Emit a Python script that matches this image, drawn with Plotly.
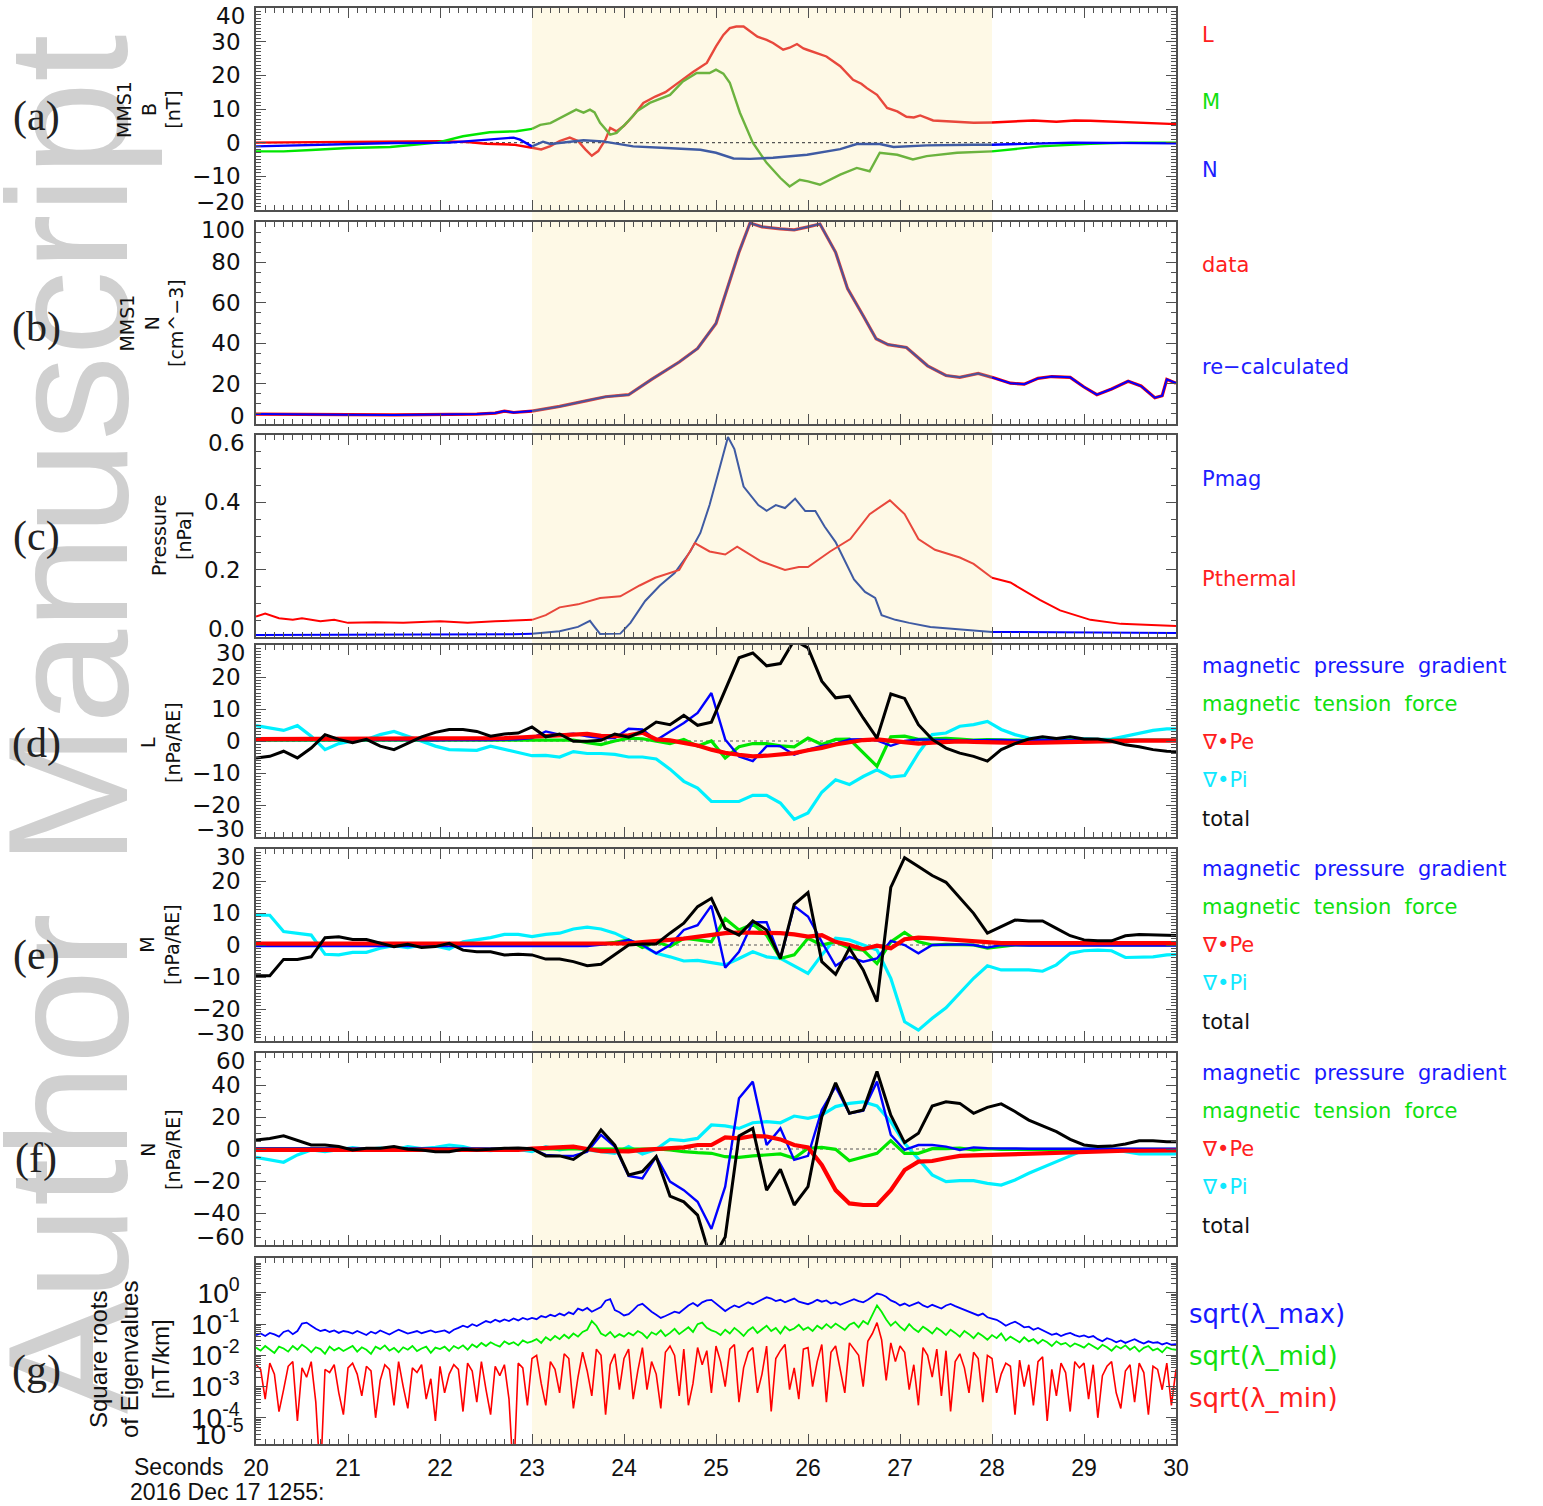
import plotly.graph_objects as go

# ======================= DATA =======================
# (a) MMS1 B in LMN [nT]
t_BL = [20.0, 20.5, 21.0, 21.5, 22.0, 22.3, 22.5, 22.8, 23.0, 23.1, 23.2, 23.3, 23.41, 23.5, 23.58, 23.65, 23.72, 23.8, 23.85, 23.92,
        24.0, 24.1, 24.21, 24.34, 24.45, 24.53, 24.61, 24.75, 24.9, 25.0, 25.08, 25.15, 25.22, 25.3, 25.37, 25.45, 25.55, 25.62, 25.73, 25.8,
        25.88, 25.95, 25.99, 26.1, 26.2, 26.35, 26.49, 26.58, 26.64, 26.75, 26.86, 26.97, 27.07, 27.15, 27.22, 27.36, 27.62, 27.8, 28.0, 28.2,
        28.45, 28.7, 28.9, 29.07, 29.3, 29.53, 29.75, 30.0]
B_L = [0.0, 0.1, 0.2, 0.5, 0.4, 0.2, -0.3, -0.6, -1.5, -2.0, -1.0, 0.5, 1.5, 0.5, -2.0, -3.9, -2.5, 1.0, 4.4, 3.4,
       5.0, 8.0, 11.8, 13.7, 15.0, 16.7, 18.2, 21.0, 23.7, 28.6, 32.0, 34.0, 34.5, 34.5, 33.0, 31.5, 30.5, 29.6, 27.6, 28.2,
       29.3, 28.0, 27.6, 26.5, 25.6, 22.7, 18.7, 17.5, 16.2, 14.2, 10.3, 9.3, 7.7, 7.5, 8.1, 6.6, 6.3, 5.9, 6.0, 6.3,
       6.6, 6.2, 6.6, 6.5, 6.2, 5.9, 5.7, 5.5]
t_BM = [20.0, 20.3, 20.6, 21.0, 21.46, 21.75, 21.97, 22.25, 22.54, 22.83, 23.0, 23.09, 23.2, 23.34, 23.48, 23.56, 23.63, 23.68, 23.74, 23.85,
        23.92, 24.05, 24.14, 24.28, 24.4, 24.5, 24.64, 24.79, 24.93, 25.0, 25.08, 25.15, 25.26, 25.37, 25.4, 25.55, 25.7, 25.8, 25.91, 26.0,
        26.13, 26.35, 26.53, 26.67, 26.72, 26.78, 26.97, 27.14, 27.29, 27.62, 28.0, 28.52, 29.07, 29.5, 30.0]
B_M = [-2.6, -2.6, -2.2, -1.6, -1.3, -0.6, 0.0, 1.9, 3.1, 3.4, 4.1, 5.3, 5.8, 7.8, 9.8, 8.9, 9.8, 9.0, 5.9, 2.4,
       2.9, 6.5, 9.3, 11.8, 13.0, 14.2, 18.2, 20.7, 20.7, 21.7, 20.5, 17.8, 8.9, 1.9, 0.0, -6.0, -10.5, -13.0, -11.0, -11.5,
       -12.5, -9.5, -7.5, -8.5, -6.0, -3.0, -3.6, -5.0, -4.0, -3.0, -2.6, -1.1, -0.3, 0.0, 0.0]
t_BN = [20.0, 20.5, 21.0, 21.5, 22.1, 22.47, 22.8, 22.87, 23.0, 23.12, 23.2, 23.56, 23.77, 24.1, 24.46, 24.83, 25.0, 25.19, 25.37, 25.62,
        25.99, 26.35, 26.53, 26.78, 26.93, 27.29, 27.8, 28.0, 28.88, 30.0]
B_N = [-1.1, -0.7, -0.3, -0.1, 0.0, 0.9, 1.5, 0.9, -1.1, 0.3, -0.4, 0.7, 0.4, -1.1, -1.6, -2.1, -3.0, -4.7, -4.8, -4.5,
       -3.6, -1.9, -0.4, -0.4, -1.3, -0.8, -0.6, -0.6, 0.0, -0.2]

# (b) MMS1 N [cm^-3]
t_N = [20.0, 20.3, 20.6, 21.0, 21.5, 22.0, 22.4, 22.6, 22.7, 22.8, 23.0, 23.3, 23.6, 23.8, 24.05, 24.3, 24.6, 24.8, 25.0, 25.15,
       25.25, 25.37, 25.5, 25.7, 25.85, 26.0, 26.13, 26.3, 26.43, 26.6, 26.74, 26.87, 27.07, 27.3, 27.5, 27.65, 27.85, 28.0, 28.2, 28.35,
       28.5, 28.65, 28.85, 29.0, 29.14, 29.3, 29.48, 29.62, 29.77, 29.85, 29.9, 30.0]
N_data = [4.9, 4.9, 4.7, 4.6, 4.5, 4.7, 4.9, 5.4, 6.4, 5.7, 6.4, 8.7, 11.6, 13.5, 14.5, 22.1, 30.7, 37.4, 49.8, 70.8,
          85.1, 99.5, 97.6, 96.6, 96.1, 97.6, 99.0, 85.0, 67.0, 53.6, 42.2, 39.3, 37.9, 28.8, 24.0, 23.1, 25.0, 23.1, 20.2, 19.7,
          22.6, 23.5, 23.1, 18.3, 14.5, 17.3, 21.2, 18.8, 13.0, 14.0, 22.1, 20.2]
N_recalc = [4.9, 4.9, 4.7, 4.6, 4.5, 4.7, 4.9, 5.4, 6.4, 5.7, 6.4, 8.7, 11.6, 13.5, 14.5, 22.1, 30.7, 37.4, 49.8, 70.8,
            85.1, 99.5, 97.6, 96.6, 96.1, 97.6, 99.0, 85.0, 67.0, 53.6, 42.2, 39.3, 37.9, 28.8, 24.0, 23.1, 25.0, 23.1, 20.2, 19.7,
            22.6, 23.5, 23.1, 18.3, 14.5, 17.3, 21.2, 18.8, 13.0, 14.0, 22.1, 20.2]

# (c) Pressure [nPa]
t_Pm = [20.0, 21.0, 22.0, 22.8, 23.0, 23.3, 23.5, 23.63, 23.68, 23.74, 23.96, 24.07, 24.23, 24.39, 24.55, 24.72, 24.83, 24.93, 25.04, 25.13,
        25.2, 25.3, 25.46, 25.55, 25.65, 25.75, 25.86, 25.97, 26.08, 26.18, 26.3, 26.4, 26.5, 26.62, 26.73, 26.8, 26.95, 27.1, 27.33, 28.0,
        29.0, 30.0]
P_mag = [0.006, 0.006, 0.007, 0.008, 0.010, 0.017, 0.030, 0.048, 0.030, 0.009, 0.010, 0.042, 0.107, 0.153, 0.190, 0.254, 0.309, 0.392, 0.503, 0.594,
         0.558, 0.447, 0.392, 0.375, 0.392, 0.383, 0.411, 0.374, 0.374, 0.328, 0.282, 0.226, 0.171, 0.134, 0.116, 0.065, 0.051, 0.042, 0.030, 0.015,
         0.013, 0.012]
t_Pth = [20.0, 20.1, 20.25, 20.4, 20.5, 20.7, 20.85, 21.0, 21.3, 21.6, 22.0, 22.3, 22.6, 22.9, 23.0, 23.15, 23.3, 23.5, 23.74, 23.96,
         24.17, 24.34, 24.6, 24.77, 24.93, 25.1, 25.23, 25.48, 25.75, 25.9, 26.0, 26.24, 26.46, 26.67, 26.89, 27.05, 27.2, 27.38, 27.65, 27.8,
         28.0, 28.2, 28.52, 28.74, 29.07, 29.4, 30.0]
P_th = [0.061, 0.070, 0.056, 0.051, 0.056, 0.047, 0.051, 0.042, 0.044, 0.042, 0.047, 0.042, 0.047, 0.050, 0.051, 0.065, 0.088, 0.097, 0.116, 0.121,
        0.153, 0.176, 0.199, 0.279, 0.254, 0.245, 0.268, 0.226, 0.199, 0.208, 0.208, 0.254, 0.291, 0.365, 0.406, 0.365, 0.291, 0.259, 0.236, 0.217,
        0.176, 0.162, 0.110, 0.079, 0.051, 0.039, 0.033]

# (d)-(f) force densities [nPa/RE], 0.15 s cadence starting 20.00 s
FORCE_STEP = 0.15
L_mpg = [0.3, 0.2, 0.3, 0.4, 0.3, 0.2, 0.3, 0.3, 0.2, 0.3, 0.4, 0.3, 0.3, 0.2, 0.3, 0.4, 0.3, 0.3, 0.4, 0.5,
         0.9, 3.0, 2.0, 2.3, 1.5, 0.9, 0.9, 3.8, 3.6, 0.2, 3.0, 5.6, 8.8, 15.0, 0.5, -4.8, -6.3, -1.6, -1.6, -4.3,
         -2.7, -1.5, -0.8, 0.5, 0.6, 0.2, -1.5, 0.0, 0.5, 0.3, 0.3, 0.2, 0.3, 0.4, 0.3, 0.2, 0.3, 0.3, 0.2, 0.3,
         0.4, 0.3, 0.3, 0.2, 0.3, 0.3, 0.2, 0.3]
L_tension = [0.3, 0.3, 0.2, 0.3, 0.4, 0.3, 0.3, 0.2, 0.3, 0.3, 0.4, 0.3, 0.2, 0.3, 0.3, 0.3, 0.4, 0.3, 0.3, 0.2,
             0.3, 0.4, 0.3, 0.3, -0.5, -1.1, 0.0, 0.9, 0.7, 0.0, -0.8, 0.5, -1.6, 0.0, -5.3, -1.8, -0.8, -0.8, -1.5, -1.8,
             0.9, -1.1, 0.5, 0.6, -3.8, -7.9, 1.3, 1.5, 0.5, 0.6, 0.8, 0.6, 0.3, 0.4, 0.3, 0.3, 0.2, 0.3, 0.3, 0.4,
             0.3, 0.3, 0.2, 0.3, 0.3, 0.3, 0.4, 0.3]
L_divPe = [0.6, 0.6, 0.6, 0.6, 0.6, 0.6, 0.6, 0.6, 0.6, 0.6, 0.6, 0.6, 0.6, 0.6, 0.6, 0.6, 0.6, 0.8, 0.9, 1.1,
           1.3, 1.5, 1.6, 2.0, 2.2, 1.6, 1.5, 1.8, 2.6, 0.5, 0.2, -0.6, -1.4, -2.7, -3.7, -4.3, -4.8, -4.6, -4.1, -3.8,
           -2.9, -2.2, -1.1, -0.5, 0.3, 0.5, 0.0, -0.5, -0.8, -0.5, -0.2, -0.1, -0.3, -0.5, -0.6, -0.6, -0.6, -0.5, -0.4, -0.2,
           0.0, 0.0, 0.1, 0.1, 0.1, 0.1, 0.1, 0.1]
L_divPi = [4.8, 4.0, 3.3, 4.8, 1.5, -2.7, -0.8, 0.0, 0.5, 2.0, 3.0, 1.5, 0.0, -1.6, -2.7, -2.7, -2.9, -1.6, -2.7, -3.6,
           -4.6, -4.5, -5.0, -3.3, -3.9, -3.9, -4.2, -5.0, -5.0, -5.6, -8.8, -12.6, -14.7, -18.9, -18.9, -18.9, -17.0, -17.0, -19.4, -24.5,
           -22.5, -16.0, -12.1, -13.6, -11.1, -9.0, -11.3, -10.8, -3.8, 2.0, 2.5, 4.6, 5.1, 6.1, 3.6, 2.0, 0.9, 0.6, 0.5, 0.9,
           0.6, 0.5, 0.6, 1.5, 2.3, 3.3, 3.8, 3.8]
L_total = [-5.3, -4.8, -3.2, -5.3, -2.2, 2.0, 0.5, -0.5, 0.5, -1.6, -2.7, -0.8, 1.3, 2.7, 3.6, 3.6, 3.0, 1.5, 2.2, 2.5,
           4.4, 1.3, 2.2, -0.1, -0.1, 0.2, 2.2, 1.2, 3.0, 5.9, 5.1, 8.0, 4.9, 5.9, 16.0, 26.0, 27.5, 23.5, 24.2, 31.5,
           29.1, 18.7, 13.5, 14.0, 7.2, 0.9, 14.7, 13.3, 5.1, 0.5, -2.2, -3.8, -4.8, -6.3, -2.7, -0.8, 0.6, 1.3, 0.8, 1.3,
           0.6, 0.6, -0.1, -1.2, -1.8, -2.7, -3.2, -3.3]

M_mpg = [-0.3, -0.2, -0.3, -0.3, -0.2, -0.3, -0.3, -0.2, -0.3, -0.3, -0.2, -0.3, -0.3, -0.2, -0.3, -0.3, -0.2, -0.3, -0.3, -0.2,
         -0.3, -0.3, -0.2, -0.3, -0.3, 0.0, 0.5, 1.6, 0.0, -2.6, 0.0, 4.7, 6.2, 12.3, -7.1, -2.1, 7.1, 7.1, -4.2, 12.2,
         8.9, 1.0, -6.5, -3.7, -5.2, -4.2, 1.3, 0.0, -2.6, 0.0, 0.2, 0.2, 0.0, -0.8, 0.0, -0.2, -0.2, -0.1, -0.2, -0.2,
         -0.1, -0.2, -0.2, -0.1, -0.2, -0.2, -0.2, -0.2]
M_tension = [0.3, 0.4, 0.3, 0.3, 0.2, 0.3, 0.4, 0.3, 0.3, 0.3, 0.2, 0.3, 0.4, 0.3, 0.3, 0.3, 0.2, 0.3, 0.4, 0.3,
             0.3, 0.3, 0.2, 0.3, 0.4, 0.3, 0.8, 1.6, -0.8, 1.0, -0.5, 2.1, 1.6, 1.0, 8.2, 4.7, 6.5, 3.1, -4.2, -3.1,
             2.1, 0.0, 1.0, -1.0, -1.6, -5.8, 1.0, 3.9, 1.0, 0.0, 0.2, 0.0, 0.0, -1.0, -0.5, 0.0, 0.1, 0.0, 0.0, 0.1,
             0.0, 0.0, 0.1, 0.0, 0.0, 0.1, 0.0, 0.0]
M_divPe = [0.4, 0.4, 0.4, 0.4, 0.4, 0.4, 0.4, 0.4, 0.4, 0.4, 0.4, 0.4, 0.4, 0.4, 0.4, 0.4, 0.4, 0.4, 0.4, 0.4,
           0.4, 0.5, 0.5, 0.5, 0.5, 0.5, 0.5, 0.5, 0.9, 1.1, 1.6, 2.0, 2.6, 3.3, 3.7, 3.9, 3.9, 3.9, 3.7, 3.3,
           2.6, 3.1, 1.0, 0.0, -1.3, -0.2, -1.0, 1.8, 2.3, 2.1, 1.8, 1.4, 1.1, 0.8, 0.6, 0.6, 0.6, 0.6, 0.6, 0.6,
           0.6, 0.6, 0.6, 0.6, 0.6, 0.6, 0.6, 0.6]
M_divPi = [9.3, 9.3, 4.2, 3.7, 3.1, -2.9, -3.1, -2.3, -2.3, -1.0, -0.2, -0.8, 0.0, -0.3, -1.3, 1.0, 1.6, 2.3, 3.3, 3.3,
           2.6, 3.3, 3.7, 5.0, 5.6, 5.0, 3.7, 1.6, -0.2, -2.6, -3.7, -5.0, -4.8, -5.4, -6.2, -4.2, -2.1, -3.7, -4.2, -6.5,
           -8.9, -3.1, 2.1, 1.6, 0.0, -1.6, -10.4, -24.0, -26.6, -22.9, -19.6, -15.1, -10.4, -6.5, -7.8, -7.8, -7.8, -8.2, -6.2, -2.6,
           -1.8, -1.6, -1.8, -3.9, -3.9, -3.7, -3.1, -2.9]
M_total = [-9.6, -9.6, -4.5, -4.5, -3.7, 2.3, 2.6, 1.7, 1.7, 0.5, -0.5, 0.2, -0.8, -0.5, 0.5, -1.6, -2.1, -2.1, -3.1, -2.9,
           -3.1, -4.4, -4.4, -5.2, -6.5, -6.0, -3.1, 0.0, 0.3, 0.3, 3.7, 6.8, 12.0, 14.6, 5.2, 3.1, 7.5, 4.7, -4.2, 12.7,
           16.4, -5.2, -9.2, -1.0, -7.8, -17.7, 18.0, 27.3, 24.5, 21.7, 19.6, 14.6, 9.9, 3.7, 5.8, 7.8, 7.5, 7.5, 5.2, 2.9,
           1.6, 1.3, 1.3, 2.9, 3.3, 3.1, 3.1, 2.9]

N_mpg = [0.3, 0.2, 0.3, 0.3, 0.4, 0.3, 0.2, 0.3, 0.3, 0.3, 0.4, 0.3, 0.2, 0.3, 0.3, 0.3, 0.4, 0.3, 0.2, 0.3,
         0.0, -3.7, -4.3, -4.3, -1.7, 8.8, 1.5, -16.9, -18.4, -4.8, -20.4, -25.7, -33.0, -50.0, -23.5, 31.7, 42.1, 2.5, 12.9, -6.8,
         -4.3, 24.4, 39.0, 22.3, 24.0, 42.1, 8.8, -0.6, 2.5, 2.5, 1.5, -0.6, 1.0, 0.5, 0.2, 0.3, 0.2, 0.2, 0.3, 0.2,
         0.2, 0.3, 0.2, 0.2, 0.3, 0.2, 0.2, 0.2]
N_tension = [0.2, 0.3, 0.2, 0.2, 0.1, 0.2, 0.3, 0.2, 0.2, 0.2, 0.1, 0.2, 0.3, 0.2, 0.2, 0.2, 0.1, 0.2, 0.3, 0.2,
             0.2, 0.2, 0.1, 0.2, 0.3, 0.5, 0.0, 0.5, 0.0, 0.0, -0.5, -1.7, -2.3, -2.7, -4.8, -5.2, -4.3, -3.7, -3.1, -5.8,
             0.5, 1.0, -0.2, -7.3, -4.8, -2.7, 5.2, -2.7, -2.7, 0.2, 0.2, 0.5, -0.5, 0.2, -0.2, -0.2, -0.2, -0.2, -0.2, -0.2,
             -0.2, -0.2, -0.2, -0.2, -0.2, -0.2, -0.2, -0.2]
N_divPe = [-0.5, -0.5, -0.5, -0.5, -0.5, -0.5, -0.5, -0.5, -0.5, -0.5, -0.5, -0.5, -0.5, -0.5, -0.5, -0.5, -0.5, -0.5, -0.5, -0.5,
           0.2, 0.6, 1.0, 1.5, 0.0, -1.3, -1.3, -1.5, -0.5, 0.0, 1.0, 1.0, 2.5, 2.5, 7.3, 6.6, 8.1, 7.8, 6.0, 2.5,
           1.0, -10.0, -25.7, -34.0, -35.0, -35.0, -25.7, -13.1, -7.9, -7.5, -5.8, -4.3, -4.0, -3.7, -3.5, -3.3, -3.0, -2.7, -2.4, -2.0,
           -1.7, -1.4, -1.2, -1.1, -1.1, -1.0, -0.9, -0.9]
N_divPi = [-5.2, -6.8, -8.3, -3.7, -0.6, -1.7, -0.2, 0.8, -0.2, 0.5, -0.6, 1.5, 0.2, 1.0, 2.5, 1.5, -0.6, -1.0, -0.2, -0.2,
           -1.7, 1.5, -0.6, 0.8, -0.6, -1.7, -2.7, 1.5, -3.1, -0.2, 6.0, 5.2, 6.6, 15.0, 14.4, 12.9, 16.4, 17.1, 16.4, 20.6,
           19.2, 21.2, 26.5, 28.5, 29.5, 26.9, 17.1, 3.5, -6.5, -16.2, -20.4, -19.8, -19.8, -21.5, -22.5, -19.4, -15.2, -11.4, -7.9, -4.3,
           -0.6, 0.5, -0.2, -1.7, -3.1, -3.1, -3.1, -3.1]
N_total = [5.6, 6.6, 8.3, 5.6, 2.5, 2.5, 1.5, -0.6, 0.5, 0.5, 1.5, -0.2, -0.6, -1.7, -1.7, -0.2, -0.6, -0.2, 0.5, 0.6,
           0.2, -4.3, -4.3, -6.5, -0.6, 11.9, 2.5, -16.2, -14.1, -4.8, -29.4, -33.0, -41.3, -70.0, -55.0, 8.1, 12.9, -25.7, -12.7, -35.0,
           -23.5, 20.2, 41.4, 22.3, 24.4, 48.4, 21.2, 4.0, 9.8, 26.9, 29.5, 28.5, 22.3, 26.0, 28.2, 23.4, 18.1, 14.4, 10.8, 6.0,
           2.5, 1.5, 1.8, 3.1, 5.2, 5.2, 4.6, 4.6]

# (g) square roots of eigenvalues, log10 of [nT/km], 0.05 s sampling starting 20.00 s
EIG_STEP = 0.05
lam_max_log10 = [
    -1.35, -1.30, -1.38, -1.28, -1.33, -1.40, -1.25, -1.20, -1.32, -1.22, -0.98, -0.95, -1.05, -1.15, -1.22, -1.18, -1.25, -1.20, -1.28, -1.22,
    -1.25, -1.30, -1.22, -1.28, -1.35, -1.24, -1.30, -1.20, -1.27, -1.33, -1.25, -1.18, -1.24, -1.30, -1.26, -1.22, -1.29, -1.24, -1.20, -1.26,
    -1.24, -1.20, -1.28, -1.18, -1.12, -1.05, -1.10, -1.00, -1.06, -0.98, -0.90, -0.95, -0.86, -0.92, -0.85, -0.90, -0.82, -0.88, -0.80, -0.85,
    -0.80, -0.84, -0.74, -0.78, -0.70, -0.75, -0.66, -0.72, -0.62, -0.68, -0.50, -0.56, -0.48, -0.60, -0.52, -0.45, -0.25, -0.20, -0.55, -0.62,
    -0.72, -0.68, -0.55, -0.40, -0.35, -0.48, -0.60, -0.70, -0.80, -0.74, -0.68, -0.60, -0.64, -0.52, -0.40, -0.32, -0.42, -0.30, -0.24, -0.22,
    -0.34, -0.45, -0.58, -0.48, -0.40, -0.46, -0.38, -0.30, -0.36, -0.28, -0.20, -0.14, -0.18, -0.26, -0.22, -0.30, -0.24, -0.18, -0.28, -0.32,
    -0.36, -0.30, -0.22, -0.28, -0.24, -0.34, -0.30, -0.38, -0.32, -0.26, -0.20, -0.26, -0.30, -0.22, -0.12, -0.02, -0.05, -0.12, -0.24, -0.30,
    -0.40, -0.34, -0.42, -0.36, -0.30, -0.40, -0.46, -0.38, -0.44, -0.50, -0.40, -0.35, -0.42, -0.48, -0.55, -0.62, -0.68, -0.72, -0.66, -0.78,
    -0.82, -0.86, -0.95, -1.05, -0.98, -0.92, -1.00, -1.10, -1.08, -1.18, -1.12, -1.20, -1.28, -1.34, -1.30, -1.38, -1.32, -1.28, -1.35, -1.40,
    -1.36, -1.42, -1.38, -1.48, -1.55, -1.45, -1.50, -1.58, -1.52, -1.60, -1.54, -1.48, -1.56, -1.62, -1.55, -1.60, -1.58, -1.65, -1.60, -1.66,
    -1.64]
lam_mid_log10 = [
    -1.75, -1.85, -1.70, -1.80, -1.92, -1.72, -1.78, -1.88, -1.70, -1.82, -1.66, -1.76, -1.90, -1.74, -1.80, -1.95, -1.72, -1.84, -1.76, -1.86,
    -1.78, -1.70, -1.88, -1.74, -1.82, -1.95, -1.72, -1.80, -1.68, -1.85, -1.76, -1.90, -1.74, -1.82, -1.70, -1.86, -1.78, -1.72, -1.92, -1.75,
    -1.80, -1.72, -1.86, -1.70, -1.78, -1.68, -1.82, -1.65, -1.74, -1.60, -1.70, -1.58, -1.66, -1.72, -1.55, -1.64, -1.58, -1.68, -1.52, -1.60,
    -1.55, -1.48, -1.60, -1.42, -1.52, -1.38, -1.48, -1.34, -1.45, -1.30, -1.40, -1.25, -1.18, -0.90, -1.05, -1.30, -1.38, -1.25, -1.42, -1.32,
    -1.40, -1.28, -1.36, -1.22, -1.30, -1.45, -1.26, -1.34, -1.20, -1.38, -1.28, -1.15, -1.32, -1.22, -1.10, -1.25, -1.00, -0.95, -1.12, -1.20,
    -1.25, -1.35, -1.18, -1.30, -1.12, -1.24, -1.38, -1.20, -1.10, -1.28, -1.16, -1.05, -1.22, -1.12, -1.30, -1.08, -1.20, -1.14, -1.02, -1.18,
    -1.10, -1.22, -1.05, -1.15, -1.00, -1.12, -0.98, -1.08, -1.18, -1.02, -0.95, -1.10, -0.90, -1.00, -0.70, -0.40, -0.60, -0.85, -1.05, -0.92,
    -1.08, -1.20, -1.00, -1.15, -1.25, -1.08, -1.18, -1.30, -1.12, -1.22, -1.35, -1.18, -1.28, -1.40, -1.22, -1.32, -1.45, -1.28, -1.38, -1.50,
    -1.35, -1.45, -1.30, -1.52, -1.40, -1.48, -1.58, -1.42, -1.55, -1.48, -1.62, -1.50, -1.58, -1.70, -1.55, -1.65, -1.60, -1.72, -1.62, -1.68,
    -1.75, -1.62, -1.70, -1.80, -1.66, -1.74, -1.85, -1.70, -1.78, -1.68, -1.82, -1.72, -1.88, -1.76, -1.70, -1.84, -1.78, -1.90, -1.74, -1.80,
    -1.82]
lam_min_log10 = [
    -2.30, -2.45, -3.40, -2.25, -2.60, -3.80, -3.10, -2.35, -2.20, -4.10, -2.40, -2.70, -2.20, -3.50, -6.00, -2.45, -2.55, -2.30, -3.20, -3.90,
    -2.40, -2.25, -2.60, -3.30, -2.35, -2.50, -4.00, -2.80, -2.30, -2.45, -3.60, -2.20, -3.00, -3.70, -2.40, -2.55, -2.30, -3.40, -2.75, -4.10,
    -2.35, -3.20, -2.60, -2.30, -2.45, -3.80, -2.25, -2.50, -3.50, -2.20, -3.10, -3.90, -2.35, -2.65, -2.30, -3.40, -6.00, -2.25, -2.40, -3.60,
    -2.10, -2.00, -2.90, -3.60, -2.20, -2.45, -3.20, -1.95, -2.10, -3.70, -2.70, -1.90, -2.50, -3.30, -1.80, -2.00, -3.90, -2.30, -1.95, -3.10,
    -2.10, -1.80, -3.40, -2.50, -1.75, -3.10, -2.20, -2.60, -3.70, -1.90, -1.70, -2.00, -3.30, -1.80, -3.60, -2.90, -1.75, -2.30, -1.85, -3.20,
    -1.70, -2.20, -3.00, -1.80, -1.65, -3.50, -2.40, -1.90, -1.75, -3.20, -2.60, -1.70, -3.80, -2.10, -1.85, -1.65, -3.10, -2.40, -3.40, -1.80,
    -1.75, -3.00, -2.20, -1.65, -3.50, -1.90, -1.70, -2.40, -3.20, -1.60, -1.80, -2.00, -3.00, -1.55, -1.30, -0.95, -1.50, -2.80, -1.60, -2.20,
    -1.70, -1.90, -3.10, -2.30, -3.60, -1.75, -2.00, -2.70, -1.80, -3.30, -1.85, -3.80, -2.20, -1.95, -2.40, -3.20, -1.90, -2.10, -3.50, -2.00,
    -2.10, -3.20, -2.60, -2.25, -2.35, -3.90, -2.15, -3.00, -2.30, -3.60, -2.20, -2.05, -4.10, -2.45, -3.30, -2.25, -2.55, -3.80, -2.20, -2.40,
    -2.25, -3.40, -2.30, -4.00, -2.65, -2.35, -2.20, -3.20, -3.70, -2.50, -2.30, -3.50, -2.25, -2.55, -3.90, -2.35, -2.45, -3.10, -2.25, -3.60,
    -2.45]

# tick values of each panel's y axis (panels a..f), and of the log panel g
a_ticks = [-20, -10, 0, 10, 20, 30, 40]
b_ticks = [0, 20, 40, 60, 80, 100]
c_ticks = [0.0, 0.2, 0.4, 0.6]
d_ticks = [-30, -20, -10, 0, 10, 20, 30]
e_ticks = [-30, -20, -10, 0, 10, 20, 30]
f_ticks = [-60, -40, -20, 0, 20, 40, 60]
g_tickvals = [1.0, 0.1, 0.01, 0.001, 0.0001]
g_ticktext = ['10<sup>0</sup>', '10<sup>-1</sup>', '10<sup>-2</sup>', '10<sup>-3</sup>', '10<sup>-4</sup>']

# ======================= LAYOUT =======================
W, H = 1543, 1506
ML, MR, MT, MB = 256, 367, 8, 62
PH = H - MT - MB
PW = W - ML - MR


def yp(px):
    return (H - MB - px) / PH


def xp(px):
    return (px - ML) / PW


def tgrid(n, step):
    return [round(20.0 + step * k, 3) for k in range(n)]


PANELS = [(8, 210), (222, 424), (435, 637), (645, 837), (849, 1041), (1053, 1245), (1258, 1444)]
FRAME = '#505050'
RED, GREEN, BLUE, CYAN, BLACK = '#FF0000', '#00E600', '#0000FF', '#00F0FF', '#000000'
RED_IN, GREEN_IN, BLUE_IN = '#E8483C', '#6CB33F', '#3F5BA3'
SHADE_T0, SHADE_T1 = 23.0, 28.0

fig = go.Figure()


def ax(i):
    return ('x' if i == 0 else 'x%d' % (i + 1)), ('y' if i == 0 else 'y%d' % (i + 1))


def add_line(i, x, y, color, width):
    xa, ya = ax(i)
    fig.add_trace(go.Scatter(x=x, y=y, mode='lines', xaxis=xa, yaxis=ya,
                             line=dict(color=color, width=width), hoverinfo='skip', showlegend=False))


def add_split(i, x, y, c_out, c_in, width):
    i0 = x.index(SHADE_T0)
    i1 = x.index(SHADE_T1)
    add_line(i, x[:i0 + 1], y[:i0 + 1], c_out, width)
    add_line(i, x[i0:i1 + 1], y[i0:i1 + 1], c_in, width)
    add_line(i, x[i1:], y[i1:], c_out, width)


# (a)
add_split(0, t_BL, B_L, RED, RED_IN, 2.4)
add_split(0, t_BM, B_M, GREEN, GREEN_IN, 2.4)
add_split(0, t_BN, B_N, BLUE, BLUE_IN, 2.4)
# (b)
add_split(1, t_N, N_data, RED, RED_IN, 3.2)
add_split(1, t_N, N_recalc, BLUE, '#4E5398', 2.0)
# (c)
add_split(2, t_Pm, P_mag, BLUE, BLUE_IN, 2.0)
add_split(2, t_Pth, P_th, RED, RED_IN, 2.0)
# (d)-(f)
for i, (mpg, ten, pe, pi, tot) in zip(
        [3, 4, 5],
        [(L_mpg, L_tension, L_divPe, L_divPi, L_total),
         (M_mpg, M_tension, M_divPe, M_divPi, M_total),
         (N_mpg, N_tension, N_divPe, N_divPi, N_total)]):
    add_line(i, tgrid(len(pi), FORCE_STEP), pi, CYAN, 3.2)
    add_line(i, tgrid(len(ten), FORCE_STEP), ten, GREEN, 3.2)
    add_line(i, tgrid(len(mpg), FORCE_STEP), mpg, BLUE, 2.4)
    add_line(i, tgrid(len(pe), FORCE_STEP), pe, RED, 4.2)
    add_line(i, tgrid(len(tot), FORCE_STEP), tot, BLACK, 3.0)
# (g)
add_line(6, tgrid(len(lam_min_log10), EIG_STEP), [10 ** v for v in lam_min_log10], RED, 1.6)
add_line(6, tgrid(len(lam_mid_log10), EIG_STEP), [10 ** v for v in lam_mid_log10], '#00F000', 1.8)
add_line(6, tgrid(len(lam_max_log10), EIG_STEP), [10 ** v for v in lam_max_log10], BLUE, 1.8)


def fmt(v, dec):
    s = ('%.' + str(dec) + 'f') % v
    return s.replace('-', '−')


YSPEC = [
    dict(ticks=a_ticks, minor=1, dec=0),
    dict(ticks=b_ticks, minor=5, dec=0),
    dict(ticks=c_ticks, minor=0.05, dec=1),
    dict(ticks=d_ticks, minor=1, dec=0),
    dict(ticks=e_ticks, minor=1, dec=0),
    dict(ticks=f_ticks, minor=5, dec=0),
    None,
]

layout = dict(width=W, height=H, margin=dict(l=ML, r=MR, t=MT, b=MB, pad=0, autoexpand=False),
              paper_bgcolor='white', plot_bgcolor='rgba(0,0,0,0)', showlegend=False)

YT_FAMILY = 'DejaVu Sans, Verdana, sans-serif'
YT_SIZE = 23
ytickfont = dict(family=YT_FAMILY, size=YT_SIZE, color='#111')
XT_FAMILY = 'Liberation Sans Narrow, Liberation Sans, Arial, sans-serif'
XT_SIZE = 23
xtickfont = dict(family=XT_FAMILY, size=XT_SIZE, color='#111')

minor_log = [k * 10.0 ** e for e in range(-5, 2) for k in range(2, 10)]

ann = []


def note(text, px, py, size, color='#111', family='DejaVu Sans, sans-serif', xanchor='center', angle=0):
    ann.append(dict(text=text, x=xp(px), y=yp(py), xref='paper', yref='paper', showarrow=False,
                    xanchor=xanchor, yanchor='middle', textangle=angle,
                    font=dict(family=family, size=size, color=color)))


# watermark first so everything else sits on top of it
note('Author Manuscript', 68, 724, 170, color='#D0D0D0', family='Liberation Sans, Arial, sans-serif', angle=-90)

for i, (top, bot) in enumerate(PANELS):
    n = '' if i == 0 else str(i + 1)
    last = (i == len(PANELS) - 1)
    xa = dict(domain=[0, 1], anchor='y' + n, range=[20, 30], tickmode='linear', tick0=20, dtick=1,
              ticks='inside', ticklen=10, tickwidth=1.2, tickcolor=FRAME,
              minor=dict(ticks='inside', ticklen=5, tickwidth=1, tickcolor=FRAME, tick0=20, dtick=0.1, showgrid=False),
              showline=True, linecolor=FRAME, linewidth=1.5, mirror='allticks', showgrid=False, zeroline=False,
              showticklabels=last, tickfont=xtickfont, ticklabelstandoff=3, automargin=False)
    if i > 0:
        xa['matches'] = 'x'
    layout['xaxis' + n] = xa
    ya = dict(domain=[yp(bot), yp(top)], anchor='x' + n, ticks='inside', ticklen=10, tickwidth=1.2, tickcolor=FRAME,
              showline=True, linecolor=FRAME, linewidth=1.5, mirror='allticks', showgrid=False, zeroline=False,
              tickfont=ytickfont, ticklabelstandoff=9, automargin=False)
    spec = YSPEC[i]
    if spec is not None:
        tv = spec['ticks']
        inner = tv[1:-1]
        # edge labels are drawn nudged inward (as in the original), inner ones by the axis
        ya.update(range=[tv[0], tv[-1]], tickmode='array', tickvals=inner,
                  ticktext=[fmt(v, spec['dec']) for v in inner],
                  minor=dict(ticks='inside', ticklen=5, tickwidth=1, tickcolor=FRAME, tick0=0, dtick=spec['minor'], showgrid=False))
        note(fmt(tv[-1], spec['dec']), 247, top + 8, YT_SIZE, family=YT_FAMILY, xanchor='right')
        note(fmt(tv[0], spec['dec']), 247, bot - 8, YT_SIZE, family=YT_FAMILY, xanchor='right')
    else:
        ya.update(type='log', range=[-4.84, 1.12], tickmode='array', tickvals=g_tickvals, ticktext=g_ticktext,
                  tickfont=dict(family='Liberation Sans, Arial, sans-serif', size=28, color='#111'),
                  minor=dict(ticks='inside', ticklen=5, tickwidth=1, tickcolor=FRAME, tickmode='array', tickvals=minor_log, showgrid=False))
    layout['yaxis' + n] = ya

shapes = [dict(type='rect', xref='x', yref='paper', x0=SHADE_T0, x1=SHADE_T1, y0=0, y1=1,
               fillcolor='#FEF9E6', line=dict(width=0), layer='below')]
for i in [0, 3, 4, 5]:
    xa_, ya_ = ax(i)
    shapes.append(dict(type='line', xref=xa_, yref=ya_, x0=20, x1=30, y0=0, y1=0,
                       line=dict(color='#555555', width=1.2, dash='dot'), layer='below'))
layout['shapes'] = shapes

# panel letters
for lab, py in zip(['(a)', '(b)', '(c)', '(d)', '(e)', '(f)', '(g)'], [117, 328, 536, 743, 955, 1158, 1370]):
    note(lab, 36, py, 42, color='#222', family='Liberation Serif, Times New Roman, serif')

# y-axis titles
note('MMS1<br>B<br>[nT]', 148, 110, 19, angle=-90)
note('MMS1<br>N<br>[cm^−3]', 151, 323, 19, angle=-90)
note('Pressure<br>[nPa]', 171, 536, 19, angle=-90)
note('L<br>[nPa/RE]', 160, 743, 19, angle=-90)
note('M<br>[nPa/RE]', 160, 945, 19, angle=-90)
note('N<br>[nPa/RE]', 160, 1150, 19, angle=-90)
note('Square roots<br>of Eigenvalues<br>[nT/km]', 129, 1360, 24, family='Liberation Sans, Arial, sans-serif', angle=-90)

# legends (coloured text)
LX = 1200
note('L', LX, 35, 21, color='#FF2020', xanchor='left')
note('M', LX, 102, 21, color='#10E010', xanchor='left')
note('N', LX, 170, 21, color='#2020FF', xanchor='left')
note('data', LX, 265, 21, color='#FF2020', xanchor='left')
note('re−calculated', LX, 367, 21, color='#2020FF', xanchor='left')
note('Pmag', LX, 479, 21, color='#2020FF', xanchor='left')
note('Pthermal', LX, 579, 21, color='#FF2020', xanchor='left')
for base in [666, 869, 1073]:
    note('magnetic  pressure  gradient', LX, base, 21, color='#1818FF', xanchor='left')
    note('magnetic  tension  force', LX, base + 38, 21, color='#10E010', xanchor='left')
    note('∇•Pe', LX, base + 76, 21, color='#FF2020', xanchor='left')
    note('∇•Pi', LX, base + 114, 21, color='#10E8FF', xanchor='left')
    note('total', LX, base + 153, 21, color='#111', xanchor='left')
note('sqrt(λ_max)', 1187, 1314, 26, color='#1818FF', xanchor='left')
note('sqrt(λ_mid)', 1187, 1356, 26, color='#10E010', xanchor='left')
note('sqrt(λ_min)', 1187, 1398, 26, color='#FF2020', xanchor='left')

# extra log label at the bottom edge
note('10<sup>-5</sup>', 246, 1432, 28, family='Liberation Sans, Arial, sans-serif', xanchor='right')

# time axis annotations
note('Seconds', 226, 1467, XT_SIZE, family=XT_FAMILY, xanchor='right')
note('2016 Dec 17 1255:', 128, 1492, XT_SIZE, family=XT_FAMILY, xanchor='left')

layout['annotations'] = ann
fig.update_layout(**layout)
fig.write_html('out.html')
